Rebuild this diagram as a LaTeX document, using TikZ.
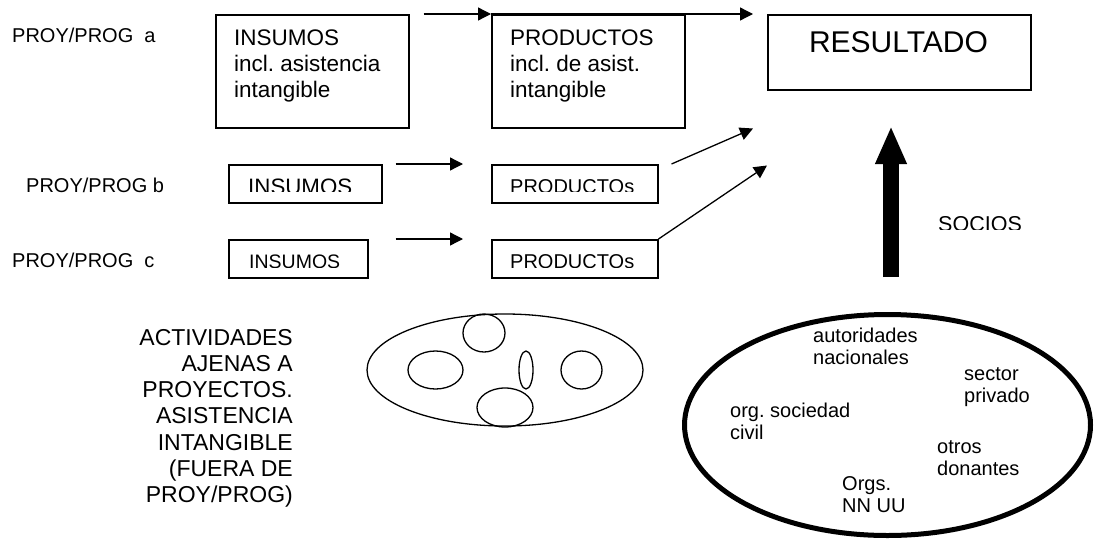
\documentclass[tikz,border=0pt]{standalone}
\usepackage{fontspec}
\setmainfont{Liberation Sans}
\usetikzlibrary{arrows.meta,shapes.geometric}
\frenchspacing
\begin{document}
\begin{tikzpicture}[x=1pt,y=-1pt,
  box/.style={draw, line width=1.5pt, inner sep=0pt, anchor=north west},
  lbl/.style={inner sep=0pt, anchor=base west, font=\fontsize{20}{23}\selectfont},
  bigtxt/.style={inner sep=0pt, anchor=base west, align=left, font=\fontsize{22.5}{26}\selectfont},
  smalltxt/.style={inner sep=0pt, anchor=base west, font=\fontsize{20}{23}\selectfont},
  elltxt/.style={inner sep=0pt, anchor=base west, align=left, font=\fontsize{20}{22.5}\selectfont},
  arr/.style={line width=1.3pt, -{Triangle[length=13pt,width=13pt]}},
  oval/.style={draw, ellipse, inner sep=0pt, line width=1.3pt},
]
\useasboundingbox (0,0) rectangle (1094,541);

% row labels
\node[lbl] (la) at (12,42) {PROY/PROG\ \ a};
\node[lbl] (lb) at (26,192) {PROY/PROG b};
\node[lbl] (lc) at (12,267) {PROY/PROG\ \ c};

% boxes
\node[box, minimum width=193pt, minimum height=113pt] (insA) at (215,14) {};
\node[box, minimum width=193pt, minimum height=113pt] (prodA) at (491,14) {};
\node[box, minimum width=263pt, minimum height=75pt] (res) at (767,14) {};
\node[box, minimum width=153pt, minimum height=38pt] (insB) at (228,164) {};
\node[box, minimum width=139pt, minimum height=38pt] (insC) at (228,239) {};
\node[box, minimum width=166pt, minimum height=38pt] (prodB) at (491,164) {};
\node[box, minimum width=166pt, minimum height=38pt] (prodC) at (491,239) {};

% box texts (base anchor = last line baseline)
\node[bigtxt] (tinsA) at (234,97) {INSUMOS\\incl. asistencia\\intangible};
\node[bigtxt] (tprodA) at (510,97) {PRODUCTOS\\incl. de asist.\\intangible};
\node[inner sep=0pt, anchor=base, font=\fontsize{30}{34}\selectfont] (tres) at (898.5,52.5) {RESULTADO};

\begin{scope}
  \clip (228,164) rectangle (381,191.3);
  \node[inner sep=0pt, anchor=base west, font=\fontsize{22.3}{25}\selectfont] (tinsB) at (248,194.8) {INSUMOS};
\end{scope}
\begin{scope}
  \clip (228,239) rectangle (367,267);
  \node[smalltxt, font=\fontsize{19.5}{23}\selectfont] (tinsC) at (249,268) {INSUMOS};
\end{scope}
\begin{scope}
  \clip (491,164) rectangle (657,191.8);
  \node[smalltxt] (tprodB) at (510,193) {PRODUCTOs};
\end{scope}
\begin{scope}
  \clip (491,239) rectangle (657,267);
  \node[smalltxt] (tprodC) at (510,268) {PRODUCTOs};
\end{scope}
\begin{scope}
  \clip (930,205) rectangle (1040,229.5);
  \node[inner sep=0pt, anchor=base west, font=\fontsize{21.5}{25}\selectfont] (tsoc) at (938,231.5) {SOCIOS};
\end{scope}

% arrows
\draw[arr] ([xshift=14pt]insA.north east) -- (prodA.north west);
\draw[arr] (prodA.north west) -- ([xshift=-14pt]res.north west);
\draw[arr] ([xshift=13pt]insB.north east) -- ([xshift=-28pt]prodB.north west);
\draw[arr] ([xshift=27pt]insC.north east) -- ([xshift=-28pt]prodC.north west);
\draw[arr] ([xshift=13pt]prodB.north east) -- ([shift={(-14,38)}]res.south west);
\draw[arr] (prodC.north east) -- ([shift={(0,75)}]res.south west);

% thick arrow (socios)
\coordinate (thkA) at (891,277);
\coordinate (thkB) at (891,126);
\draw[line width=16pt, -{Triangle[length=38pt,width=29pt]}] (thkA) -- (thkB);

% activities text
\node[inner sep=0pt, anchor=base east, align=right, font=\fontsize{23}{26.3}\selectfont] (act) at (293,502.8)
  {ACTIVIDADES\\AJENAS A\\PROYECTOS.\\ASISTENCIA\\INTANGIBLE\\(FUERA DE\\PROY/PROG)};

% activities ellipse
\node[oval, minimum width=276pt, minimum height=112pt] (actE) at (505,370) {};
\node[oval, minimum width=42pt, minimum height=38pt] (o1) at (484,333) {};
\node[oval, minimum width=55pt, minimum height=38pt] (o2) at (435.5,370) {};
\node[oval, minimum width=14pt, minimum height=38pt] (o3) at (526,370) {};
\node[oval, minimum width=56pt, minimum height=39pt] (o4) at (505,407.5) {};
\node[oval, minimum width=41pt, minimum height=38pt] (o5) at (581.5,370) {};

% socios ellipse
\node[draw, ellipse, inner sep=0pt, line width=5pt, minimum width=406pt, minimum height=221pt] (socE) at (887.5,425) {};
\node[elltxt] (s1) at (813,364.5) {autoridades\\nacionales};
\node[elltxt] (s2) at (964,402.5) {sector\\privado};
\node[elltxt] (s3) at (730,439.5) {org. sociedad\\civil};
\node[elltxt] (s4) at (937,475.5) {otros\\donantes};
\node[elltxt] (s5) at (842,512.5) {Orgs.\\NN UU};
\end{tikzpicture}
\end{document}
